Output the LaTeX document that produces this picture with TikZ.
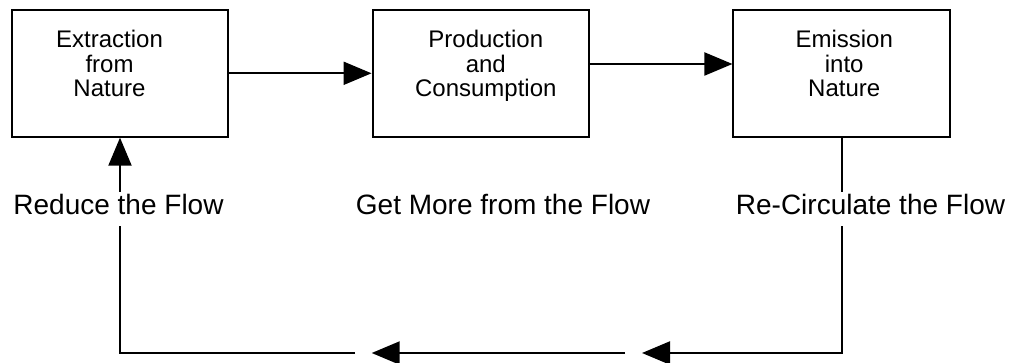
\documentclass[tikz,border=0pt]{standalone}
\usepackage{fontspec}
\setmainfont{Liberation Sans}
\usetikzlibrary{arrows.meta}
\newcommand{\boxlines}[2]{\smash{\hspace*{#1}\begin{tabular}{@{}c@{}}#2\end{tabular}\hspace*{-#1}}}

\begin{document}
\begin{tikzpicture}[x=1pt,y=-1pt,
  flowbox/.style={draw, line width=2pt, minimum width=216.5pt, minimum height=126.7pt,
    inner sep=0pt, font=\fontsize{24}{24}\selectfont},
  flowlabel/.style={fill=white, anchor=base, inner sep=3pt, text depth=8pt,
    font=\fontsize{28}{34}\selectfont},
  flow/.style={line width=2pt, -{Triangle[length=28pt,width=23pt]}}]

\useasboundingbox (0,0) rectangle (1015,363);

\node[flowbox] (extract) at (120,73.3) {\boxlines{-10.5pt}{Extraction\\from\\Nature}};
\node[flowbox] (prod) at (480.8,73.3) {\boxlines{5pt}{Production\\and\\Consumption}};
\node[flowbox] (emit) at (841.7,73.3) {\boxlines{2.5pt}{Emission\\into\\Nature}};

\draw[flow] (extract) -- (prod);
\draw[flow] ([yshift=9.3pt]prod.east) -- ([yshift=9.3pt]emit.west);

% return flow along the bottom
\coordinate (rcorner) at (841.7,353);
\coordinate (tipr) at (642,353);
\coordinate (gapr) at (625,353);
\coordinate (tipl) at (371.7,353);
\coordinate (gapl) at (355,353);
\coordinate (lcorner) at (120,353);

\draw[flow] (emit.south) -- (rcorner) -- (tipr);
\draw[flow] (gapr) -- (tipl);
\draw[flow] (gapl) -- (lcorner) -- (extract.south);

\node[flowlabel] (reduce) at (118.5,215) {Reduce the Flow};
\node[flowlabel] (more) at (503,215) {Get More from the Flow};
\node[flowlabel] (recirc) at (870.5,215) {Re-Circulate the Flow};

\end{tikzpicture}
\end{document}
